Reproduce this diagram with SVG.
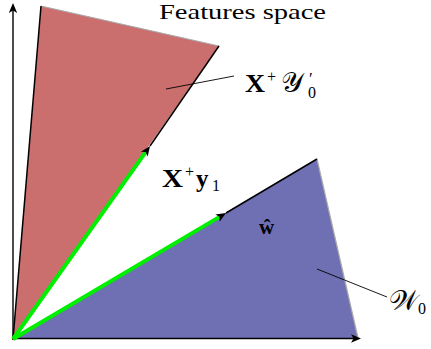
<svg xmlns="http://www.w3.org/2000/svg" width="431" height="349" viewBox="0 0 431 349">
<style>
.t{font-family:"Liberation Serif","DejaVu Serif",serif;fill:#000}
.b{font-weight:bold}
.edge{stroke:#000;stroke-width:1.5;fill:none}
.soft{stroke:#aaa;stroke-width:1.2;fill:none}
.lead{stroke:#000;stroke-width:0.9;fill:none}
.vec{stroke:#00ee00;stroke-width:4;fill:none}
.axis{stroke:#000;stroke-width:1.4;fill:none}
</style>
<defs>
<marker id="ah" markerUnits="userSpaceOnUse" markerWidth="20" markerHeight="20" refX="0" refY="0" orient="auto" overflow="visible">
<path d="M7,0 L-3,-4.2 L-0.5,0 L-3,4.2 Z" fill="#000"/>
</marker>
</defs>
<g id="cone-y0">
<polygon points="13,339 41,6 219,46" fill="#cb6e6e"/>
<line class="soft" x1="41" y1="6" x2="219" y2="46"/>
<line class="edge" x1="13" y1="339" x2="41" y2="6"/>
<line class="edge" x1="150" y1="146" x2="219" y2="46"/>
</g>
<g id="cone-w0">
<polygon points="13,339 317,159 358,338" fill="#6f6fb4"/>
<line class="soft" x1="317" y1="159" x2="358" y2="338"/>
<line class="edge" x1="226" y1="213" x2="317" y2="159"/>
</g>
<g id="connectors">
<line class="axis" x1="13" y1="340" x2="13" y2="10" marker-end="url(#ah)"/>
<line class="axis" x1="12" y1="338.5" x2="354" y2="338.5" marker-end="url(#ah)"/>
<line class="vec" x1="13" y1="339" x2="146" y2="151.7" marker-end="url(#ah)"/>
<line class="vec" x1="13" y1="339" x2="220" y2="216.6" marker-end="url(#ah)"/>
<line class="lead" x1="166" y1="89" x2="234" y2="76"/>
<line class="lead" x1="317" y1="269" x2="387" y2="297"/>
</g>
<g id="label-features">
<text class="t" x="159" y="19" font-size="22" textLength="167" lengthAdjust="spacingAndGlyphs">Features space</text>
</g>
<g id="label-xy0">
<text class="t" y="92" font-size="25"><tspan class="b" x="245" textLength="20" lengthAdjust="spacingAndGlyphs">X</tspan><tspan font-size="16" x="267" y="82">+</tspan><tspan x="281" y="92" font-size="28">𝒴</tspan><tspan font-size="17" x="309" y="84">′</tspan><tspan font-size="16" x="308" y="98">0</tspan></text>
</g>
<g id="label-xy1">
<text class="t" y="187" font-size="25"><tspan class="b" x="162" textLength="21" lengthAdjust="spacingAndGlyphs">X</tspan><tspan font-size="16" x="185" y="177">+</tspan><tspan class="b" x="196" y="187">y</tspan><tspan font-size="16" x="212" y="191">1</tspan></text>
</g>
<g id="label-w">
<text class="t b" x="259" y="234" font-size="21">ŵ</text>
</g>
<g id="label-W0">
<text class="t" y="310" font-size="28"><tspan x="389">𝒲</tspan><tspan font-size="16" x="418" y="314">0</tspan></text>
</g>
</svg>
